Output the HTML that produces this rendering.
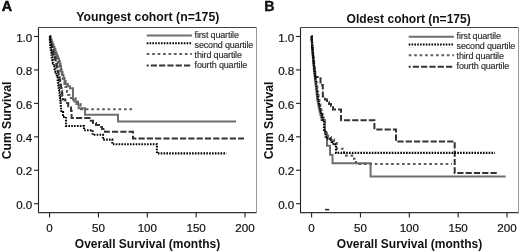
<!DOCTYPE html>
<html><head><meta charset="utf-8"><style>
html,body{margin:0;padding:0;background:#fff;width:520px;height:252px;overflow:hidden}
svg{display:block;filter:grayscale(1)}
text{font-family:"Liberation Sans",sans-serif;fill:#111}
.t{font-size:11.6px;stroke:#111;stroke-width:0.2px}
.b{font-size:12px;font-weight:bold}
.l{font-size:9px;fill:#222;letter-spacing:-0.17px;stroke:#444;stroke-width:0.15px}
.p{font-size:14.3px;font-weight:bold;stroke:#000;stroke-width:0.45px}
</style></head><body>
<svg width="520" height="252" viewBox="0 0 520 252">
<rect width="520" height="252" fill="#fff"/>
<text x="1.7" y="10.6" class="p">A</text>
<text x="264.3" y="10.6" class="p" style="stroke-width:0.3px">B</text>
<path d="M38.5 27.5H256.5" stroke="#444" stroke-width="1"/>
<path d="M256.5 27.5V212.5" stroke="#999" stroke-width="1"/>
<path d="M38.5 27.5V212.8" stroke="#222" stroke-width="1.1" fill="none"/>
<path d="M38.0 212.65H256.5" stroke="#333" stroke-width="1.3" fill="none"/>
<path d="M34 203.70H38.5" stroke="#222" stroke-width="1.1"/>
<text x="32.3" y="208.90" text-anchor="end" class="t">0.0</text>
<path d="M34 170.26H38.5" stroke="#222" stroke-width="1.1"/>
<text x="32.3" y="175.46" text-anchor="end" class="t">0.2</text>
<path d="M34 136.82H38.5" stroke="#222" stroke-width="1.1"/>
<text x="32.3" y="142.02" text-anchor="end" class="t">0.4</text>
<path d="M34 103.38H38.5" stroke="#222" stroke-width="1.1"/>
<text x="32.3" y="108.58" text-anchor="end" class="t">0.6</text>
<path d="M34 69.94H38.5" stroke="#222" stroke-width="1.1"/>
<text x="32.3" y="75.14" text-anchor="end" class="t">0.8</text>
<path d="M34 36.50H38.5" stroke="#222" stroke-width="1.1"/>
<text x="32.3" y="41.70" text-anchor="end" class="t">1.0</text>
<path d="M49.60 212.5V217.5" stroke="#222" stroke-width="1.1"/>
<text x="49.60" y="232" text-anchor="middle" class="t">0</text>
<path d="M98.45 212.5V217.5" stroke="#222" stroke-width="1.1"/>
<text x="98.45" y="232" text-anchor="middle" class="t">50</text>
<path d="M147.30 212.5V217.5" stroke="#222" stroke-width="1.1"/>
<text x="147.30" y="232" text-anchor="middle" class="t">100</text>
<path d="M196.15 212.5V217.5" stroke="#222" stroke-width="1.1"/>
<text x="196.15" y="232" text-anchor="middle" class="t">150</text>
<path d="M245.00 212.5V217.5" stroke="#222" stroke-width="1.1"/>
<text x="245.00" y="232" text-anchor="middle" class="t">200</text>
<text x="147.8" y="21.3" text-anchor="middle" class="b" style="font-size:12.25px">Youngest cohort (n=175)</text>
<text x="147.5" y="247.5" text-anchor="middle" class="b">Overall Survival (months)</text>
<text transform="translate(10.7 120.5) rotate(-90)" text-anchor="middle" class="b" style="font-size:12.15px">Cum Survival</text>
<path d="M146.7 35.5H191.9" stroke="#6e6e6e" stroke-width="2" fill="none"/>
<text x="194.6" y="37.6" class="l">first quartile</text>
<path d="M146.7 43.3H191.9" stroke="#000" stroke-width="2.1" stroke-dasharray="1.6 1.25" fill="none"/>
<text x="194.6" y="47.7" class="l">second quartile</text>
<path d="M146.7 54H191.9" stroke="#5e5e5e" stroke-width="2.1" stroke-dasharray="2.7 2.75" fill="none"/>
<text x="194.6" y="57.7" class="l">third quartile</text>
<path d="M146.7 65.5H191.9" stroke="#333" stroke-width="2" stroke-dasharray="6.2 2.1" fill="none" stroke-dashoffset="4.2"/>
<text x="194.6" y="67.8" class="l">fourth quartile</text>
<path d="M49.6 36.5H50.55V39.25H51.5V42.0H52.5V44.5H53.5V47.0H54.5V49.5H55.5V52.0H56.25V54.0H57.0V56.0H58.0V58.5H59.0V61.0H59.75V63.5H60.5V66.0H61.0V69.0H61.5V72.0H62.5V75.0H63.5V78.0H64.6V81.0H65.7V84.0H67.85V86.15H70.0V88.3H73.0V91.0H73V99.7H74.3V101.5H76.4V104H78.6V108.3H85V114.8H118V121.6H236" stroke="#6e6e6e" stroke-width="2" fill="none"/>
<path d="M49.6 36.5H50.4V39.0H51.2V41.5H52.0V44.0H52.83V46.67H53.67V49.33H54.5V52.0H55.33V54.67H56.17V57.33H57.0V60.0H57.83V62.67H58.67V65.33H59.5V68.0H60.33V70.67H61.17V73.33H62.0V76.0H62.83V78.67H63.67V81.33H64.5V84.0H65.33V86.67H66.17V89.33H67.0V92.0H68.25V95.0H69.5V98.0H75.5V100.5H78V104H80.5V106.5H81V109.3H134.5" stroke="#5e5e5e" stroke-width="2.1" stroke-dasharray="2.7 2.75" fill="none"/>
<path d="M49.6 36.5H50.0V39.0H50.4V41.5H50.8V44.0H51.65V47.0H52.5V50.0H53.13V52.33H53.77V54.67H54.4V57.0H55.03V59.33H55.67V61.67H56.3V64.0H56.83V66.67H57.37V69.33H57.9V72.0H58.5V74.67H59.1V77.33H59.7V80.0H60.17V82.67H60.63V85.33H61.1V88.0H61.5V90.67H61.9V93.33H62.3V96.0H62.8V99.6H65.4V102.9H68.2V106.2H71V110.7H71.6V114.6H71.6V118H89.5V120.8H93V123H96V125H99V127H102V129H105V131.8H133V138.5H244" stroke="#333" stroke-width="2" stroke-dasharray="6.2 2.1" fill="none"/>
<path d="M49.6 36.5H49.83V39.33H50.07V42.17H50.3V45.0H50.53V47.33H50.77V49.67H51.0V52.0H51.4V54.67H51.8V57.33H52.2V60.0H52.9V63.0H53.6V66.0H54.5V69.0H55.4V72.0H56.13V74.67H56.87V77.33H57.6V80.0H57.9V82.5H58.2V85.0H58.5V87.5H58.8V90.0H59.1V92.5H59.4V95.0H59.7V97.5H60.0V100.0H60.3V102.5H60.6V105.0H60.83V107.33H61.07V109.67H61.3V112.0H63V117H66V126H84V130.2H92.6V134.8H103V139.6H112.3V144.2H156.9V153.4H226.5" stroke="#000" stroke-width="2.1" stroke-dasharray="1.6 1.25" fill="none"/>
<path d="M300.5 27.5H518.5" stroke="#444" stroke-width="1"/>
<path d="M518.5 27.5V212.5" stroke="#999" stroke-width="1"/>
<path d="M300.5 27.5V212.8" stroke="#222" stroke-width="1.1" fill="none"/>
<path d="M300.0 212.65H518.5" stroke="#333" stroke-width="1.3" fill="none"/>
<path d="M296 203.70H300.5" stroke="#222" stroke-width="1.1"/>
<text x="294.3" y="208.90" text-anchor="end" class="t">0.0</text>
<path d="M296 170.26H300.5" stroke="#222" stroke-width="1.1"/>
<text x="294.3" y="175.46" text-anchor="end" class="t">0.2</text>
<path d="M296 136.82H300.5" stroke="#222" stroke-width="1.1"/>
<text x="294.3" y="142.02" text-anchor="end" class="t">0.4</text>
<path d="M296 103.38H300.5" stroke="#222" stroke-width="1.1"/>
<text x="294.3" y="108.58" text-anchor="end" class="t">0.6</text>
<path d="M296 69.94H300.5" stroke="#222" stroke-width="1.1"/>
<text x="294.3" y="75.14" text-anchor="end" class="t">0.8</text>
<path d="M296 36.50H300.5" stroke="#222" stroke-width="1.1"/>
<text x="294.3" y="41.70" text-anchor="end" class="t">1.0</text>
<path d="M311.60 212.5V217.5" stroke="#222" stroke-width="1.1"/>
<text x="311.60" y="232" text-anchor="middle" class="t">0</text>
<path d="M360.45 212.5V217.5" stroke="#222" stroke-width="1.1"/>
<text x="360.45" y="232" text-anchor="middle" class="t">50</text>
<path d="M409.30 212.5V217.5" stroke="#222" stroke-width="1.1"/>
<text x="409.30" y="232" text-anchor="middle" class="t">100</text>
<path d="M458.15 212.5V217.5" stroke="#222" stroke-width="1.1"/>
<text x="458.15" y="232" text-anchor="middle" class="t">150</text>
<path d="M507.00 212.5V217.5" stroke="#222" stroke-width="1.1"/>
<text x="507.00" y="232" text-anchor="middle" class="t">200</text>
<text x="408.7" y="22.9" text-anchor="middle" class="b" style="font-size:12.05px">Oldest cohort (n=175)</text>
<text x="409.5" y="247.5" text-anchor="middle" class="b">Overall Survival (months)</text>
<text transform="translate(272.7 120.5) rotate(-90)" text-anchor="middle" class="b" style="font-size:12.15px">Cum Survival</text>
<path d="M408.7 36.7H453.9" stroke="#6e6e6e" stroke-width="2" fill="none"/>
<text x="456.6" y="38.800000000000004" class="l">first quartile</text>
<path d="M408.7 44.5H453.9" stroke="#000" stroke-width="2.1" stroke-dasharray="1.6 1.25" fill="none"/>
<text x="456.6" y="48.900000000000006" class="l">second quartile</text>
<path d="M408.7 55.2H453.9" stroke="#5e5e5e" stroke-width="2.1" stroke-dasharray="2.7 2.75" fill="none"/>
<text x="456.6" y="58.900000000000006" class="l">third quartile</text>
<path d="M408.7 66.7H453.9" stroke="#333" stroke-width="2" stroke-dasharray="6.2 2.1" fill="none" stroke-dashoffset="4.2"/>
<text x="456.6" y="69.0" class="l">fourth quartile</text>
<path d="M311.5 36.5H311.63V38.8H311.77V41.1H311.9V43.4H312.04V45.7H312.17V48.0H312.34V50.4H312.52V52.8H312.69V55.2H312.86V57.6H313.04V60.0H313.26V62.5H313.48V65.0H313.7V67.5H313.92V70.0H314.2V72.5H314.47V75.0H314.74V77.5H315.01V80.0H315.3V82.5H315.6V85.0H315.91V87.5H316.2V90.0H316.47V92.5H316.74V95.0H317.01V97.5H317.29V100.0H317.76V102.4H318.23V104.8H318.7V107.2H319.18V109.6H319.65V112.0H320.29V114.67H320.93V117.33H321.6V120.0H325V133H327V145.8H330V154.7H332.5V163.2H370.6V176.6H505.7" stroke="#6e6e6e" stroke-width="2" fill="none"/>
<path d="M311.5 36.5H311.69V38.8H311.88V41.1H312.07V43.4H312.25V45.7H312.44V48.0H312.67V50.4H312.9V52.8H313.13V55.2H313.36V57.6H313.59V60.0H313.88V62.5H314.16V65.0H314.44V67.5H314.72V70.0H315.05V72.5H315.38V75.0H315.71V77.5H316.04V80.0H316.39V82.5H316.76V85.0H317.12V87.5H317.47V90.0H317.8V92.5H318.13V95.0H318.46V97.5H318.79V100.0H319.32V102.4H319.85V104.8H320.38V107.2H320.91V109.6H321.44V112.0H322.15V114.67H322.83V117.33H323.5V120.0H325V130H326V134H328V137H331V139.5H334V143H336.8V146H337V148.8H344V155.6H354V158.7H356V164H452" stroke="#5e5e5e" stroke-width="2.1" stroke-dasharray="2.7 2.75" fill="none"/>
<path d="M311.5 36.5H311.66V38.8H311.82V41.1H311.98V43.4H312.14V45.7H312.3V48.0H312.5V50.4H312.7V52.8H312.9V55.2H313.1V57.6H313.3V60.0H313.55V62.5H313.8V65.0H314.05V67.5H314.3V70.0H314.63V72.33H314.97V74.67H315.3V77.0H320.5V85H322.8V96.5H325V99.5H327V102.2H329V104H331V106H333V109.5H341V120.3H374.4V129.4H396V141.5H454.7V172.9H498.5" stroke="#333" stroke-width="2" stroke-dasharray="6.2 2.1" fill="none"/>
<path d="M311.5 36.5H311.66V38.8H311.82V41.1H311.98V43.4H312.14V45.7H312.3V48.0H312.5V50.4H312.7V52.8H312.9V55.2H313.1V57.6H313.3V60.0H313.55V62.5H313.8V65.0H314.05V67.5H314.3V70.0H314.6V72.5H314.9V75.0H315.2V77.5H315.5V80.0H315.82V82.5H316.15V85.0H316.48V87.5H316.8V90.0H317.1V92.5H317.4V95.0H317.7V97.5H318.0V100.0H318.5V102.4H319.0V104.8H319.5V107.2H320.0V109.6H320.5V112.0H321.17V114.67H321.83V117.33H322.5V120.0H324V130H325.5V136.8H327.5V138.5H329.5V140.3H331.5V142H333.5V144H335.3V145.8H336V152.9H495" stroke="#000" stroke-width="2.1" stroke-dasharray="1.6 1.25" fill="none"/>
<path d="M325 209.6H329.2" stroke="#222" stroke-width="1.5"/>
</svg>
</body></html>
